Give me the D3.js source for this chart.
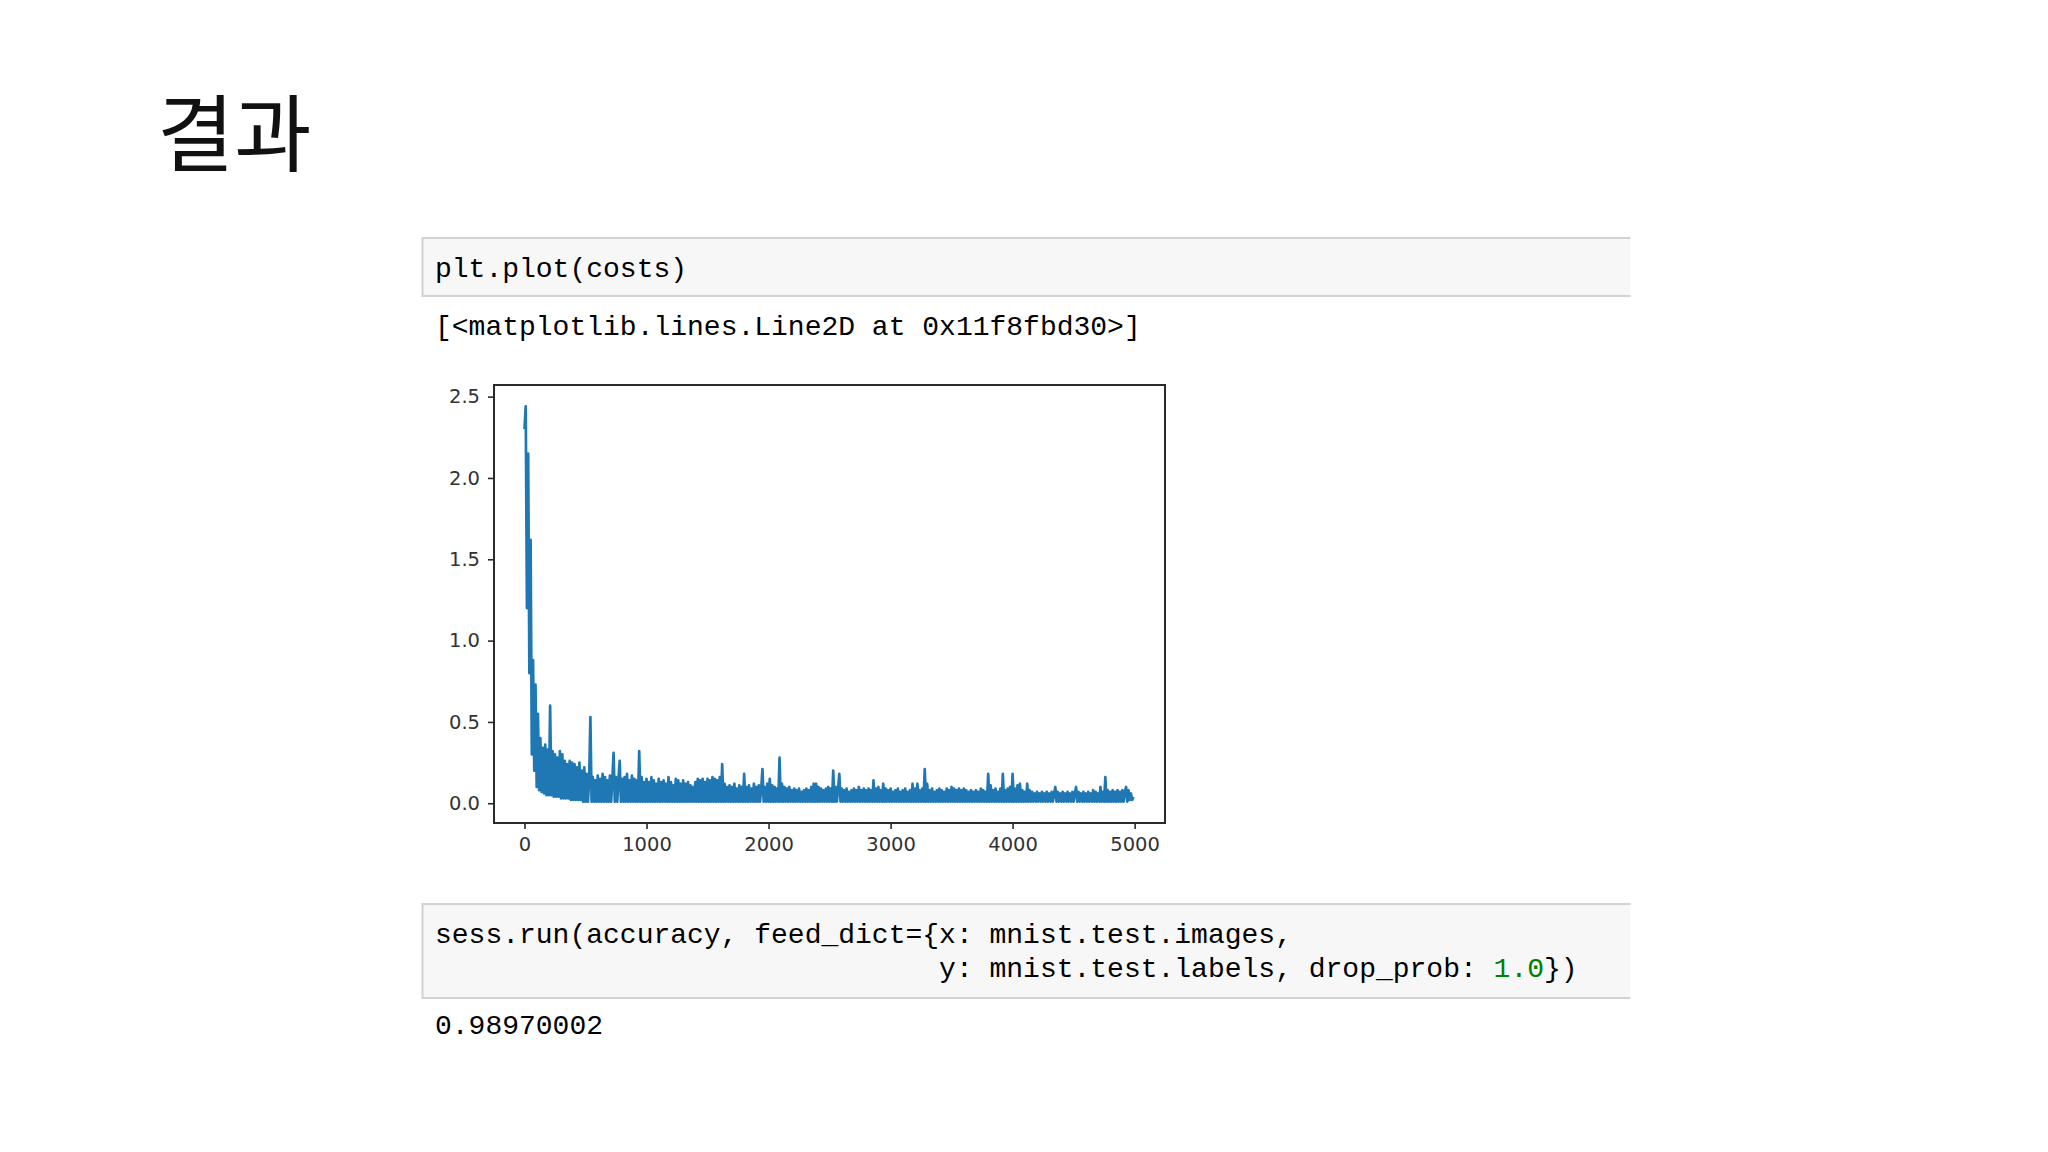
<!DOCTYPE html>
<html>
<head>
<meta charset="utf-8">
<script src="https://cdn.jsdelivr.net/npm/d3@7"></script>
<style>
  html, body { margin: 0; padding: 0; background: #ffffff; }
  svg { display: block; }
</style>
</head>
<body>
<svg id="chart" width="2048" height="1152"></svg>
<script>
// ---------------- data ----------------
const titleText = "결과";
const cell1Code = ["plt.plot(costs)"];
const cell1Output = "[<matplotlib.lines.Line2D at 0x11f8fbd30>]";
const cell2Code = [
  [{t: "sess.run(accuracy, feed_dict={x: mnist.test.images,"}],
  [{t: "                              y: mnist.test.labels, drop_prob: "}, {t: "1.0", num: true}, {t: "})"}]
];
const cell2Output = "0.98970002";

// costs, one value every 10 training steps
const sampleEvery = 10;
const costs = [
  2.30, 2.44, 1.20, 2.15, 0.80, 1.62, 0.30, 0.88, 0.20, 0.73,
  0.10, 0.55, 0.08, 0.40, 0.07, 0.34, 0.06, 0.36, 0.05, 0.33,
  0.05, 0.60, 0.05, 0.32, 0.04, 0.30, 0.04, 0.28, 0.04, 0.32,
  0.03, 0.30, 0.03, 0.26, 0.03, 0.24, 0.03, 0.26, 0.02, 0.25,
  0.02, 0.24, 0.02, 0.22, 0.02, 0.25, 0.02, 0.20, 0.01, 0.22,
  0.01, 0.18, 0.01, 0.15, 0.53, 0.01, 0.16, 0.01, 0.14, 0.01,
  0.17, 0.01, 0.15, 0.01, 0.18, 0.01, 0.16, 0.01, 0.14, 0.01,
  0.17, 0.01, 0.15, 0.31, 0.01, 0.16, 0.01, 0.15, 0.26, 0.01,
  0.15, 0.01, 0.16, 0.01, 0.18, 0.01, 0.14, 0.01, 0.17, 0.01,
  0.15, 0.01, 0.14, 0.01, 0.32, 0.01, 0.16, 0.01, 0.13, 0.01,
  0.15, 0.01, 0.13, 0.01, 0.16, 0.01, 0.14, 0.01, 0.12, 0.01,
  0.15, 0.01, 0.13, 0.01, 0.14, 0.01, 0.12, 0.01, 0.16, 0.01,
  0.13, 0.01, 0.11, 0.01, 0.15, 0.01, 0.14, 0.01, 0.12, 0.01,
  0.14, 0.01, 0.12, 0.01, 0.13, 0.01, 0.11, 0.01, 0.10, 0.01,
  0.13, 0.01, 0.15, 0.01, 0.14, 0.01, 0.15, 0.01, 0.13, 0.01,
  0.15, 0.01, 0.14, 0.01, 0.16, 0.01, 0.15, 0.01, 0.14, 0.01,
  0.16, 0.01, 0.24, 0.01, 0.12, 0.01, 0.10, 0.01, 0.11, 0.01,
  0.10, 0.01, 0.12, 0.01, 0.09, 0.01, 0.11, 0.01, 0.10, 0.01,
  0.18, 0.01, 0.10, 0.01, 0.11, 0.01, 0.09, 0.01, 0.12, 0.01,
  0.10, 0.01, 0.11, 0.01, 0.09, 0.21, 0.01, 0.10, 0.01, 0.12,
  0.01, 0.15, 0.01, 0.11, 0.01, 0.10, 0.01, 0.09, 0.01, 0.28,
  0.01, 0.12, 0.01, 0.10, 0.01, 0.09, 0.01, 0.10, 0.01, 0.08,
  0.01, 0.09, 0.01, 0.08, 0.01, 0.09, 0.01, 0.07, 0.01, 0.08,
  0.01, 0.09, 0.01, 0.08, 0.01, 0.10, 0.01, 0.12, 0.01, 0.12,
  0.01, 0.10, 0.01, 0.09, 0.01, 0.08, 0.01, 0.09, 0.01, 0.10,
  0.01, 0.09, 0.01, 0.20, 0.01, 0.10, 0.01, 0.09, 0.18, 0.01,
  0.09, 0.01, 0.08, 0.01, 0.09, 0.01, 0.07, 0.01, 0.08, 0.01,
  0.09, 0.01, 0.08, 0.01, 0.10, 0.01, 0.08, 0.01, 0.09, 0.01,
  0.08, 0.01, 0.09, 0.01, 0.08, 0.01, 0.14, 0.01, 0.09, 0.01,
  0.10, 0.01, 0.08, 0.01, 0.12, 0.01, 0.09, 0.01, 0.08, 0.01,
  0.09, 0.01, 0.07, 0.01, 0.08, 0.01, 0.09, 0.01, 0.07, 0.01,
  0.08, 0.01, 0.09, 0.01, 0.07, 0.01, 0.08, 0.01, 0.12, 0.01,
  0.09, 0.01, 0.12, 0.01, 0.08, 0.01, 0.09, 0.01, 0.21, 0.01,
  0.12, 0.01, 0.08, 0.01, 0.09, 0.01, 0.07, 0.01, 0.08, 0.01,
  0.09, 0.01, 0.08, 0.01, 0.07, 0.01, 0.09, 0.01, 0.08, 0.01,
  0.10, 0.01, 0.09, 0.01, 0.08, 0.01, 0.09, 0.01, 0.08, 0.01,
  0.09, 0.01, 0.08, 0.01, 0.07, 0.01, 0.08, 0.01, 0.07, 0.01,
  0.08, 0.01, 0.07, 0.01, 0.09, 0.01, 0.08, 0.01, 0.07, 0.01,
  0.18, 0.01, 0.11, 0.01, 0.08, 0.01, 0.09, 0.01, 0.07, 0.01,
  0.09, 0.01, 0.18, 0.01, 0.08, 0.01, 0.09, 0.01, 0.10, 0.01,
  0.18, 0.01, 0.09, 0.01, 0.11, 0.01, 0.12, 0.01, 0.08, 0.01,
  0.07, 0.01, 0.12, 0.01, 0.08, 0.01, 0.07, 0.01, 0.06, 0.01,
  0.07, 0.01, 0.06, 0.01, 0.07, 0.01, 0.06, 0.01, 0.07, 0.01,
  0.06, 0.01, 0.07, 0.01, 0.06, 0.10, 0.01, 0.07, 0.01, 0.06,
  0.01, 0.07, 0.01, 0.06, 0.01, 0.07, 0.01, 0.06, 0.01, 0.07,
  0.01, 0.06, 0.10, 0.01, 0.07, 0.01, 0.06, 0.01, 0.07, 0.01,
  0.06, 0.01, 0.07, 0.01, 0.06, 0.01, 0.08, 0.01, 0.07, 0.01,
  0.06, 0.01, 0.10, 0.01, 0.07, 0.01, 0.16, 0.01, 0.08, 0.01,
  0.07, 0.01, 0.08, 0.01, 0.07, 0.01, 0.08, 0.01, 0.07, 0.01,
  0.08, 0.01, 0.07, 0.10, 0.01, 0.08, 0.02, 0.06, 0.02, 0.04
];
const totalSteps = 5000;
const xTicks = [0, 1000, 2000, 3000, 4000, 5000];
const yTicks = [0.0, 0.5, 1.0, 1.5, 2.0, 2.5];

// ---------------- layout ----------------
const svg = d3.select("#chart");
svg.append("rect").attr("width", 2048).attr("height", 1152).attr("fill", "#ffffff");

const mono = "'Liberation Mono', 'DejaVu Sans Mono', monospace";
const codeSize = 28;

// title
svg.append("text")
  .attr("x", 157).attr("y", 165)
  .attr("font-family", "'Noto Sans CJK KR', sans-serif")
  .attr("font-size", 84)
  .attr("fill", "#111111")
  .text(titleText);

function codeCell(top, bottom) {
  const g = svg.append("g");
  g.append("rect").attr("x", 422).attr("y", top).attr("width", 1630 - 422).attr("height", bottom - top)
    .attr("fill", "#f7f7f7");
  g.append("path")
    .attr("d", `M1630.5,${top}H422.5V${bottom}H1630.5`)
    .attr("fill", "none").attr("stroke", "#d2d2d2").attr("stroke-width", 2);
  return g;
}

// cell 1
const c1 = codeCell(238, 296);
c1.append("text").attr("x", 435).attr("y", 277)
  .attr("font-family", mono).attr("font-size", codeSize).attr("fill", "#000")
  .text(cell1Code[0]);
svg.append("text").attr("x", 435).attr("y", 335)
  .attr("font-family", mono).attr("font-size", codeSize).attr("fill", "#000")
  .text(cell1Output);

// cell 2
const c2 = codeCell(904, 998);
cell2Code.forEach((line, i) => {
  const t = c2.append("text").attr("x", 435).attr("y", 943 + i * 34)
    .attr("font-family", mono).attr("font-size", codeSize).attr("fill", "#000")
    .style("white-space", "pre");
  line.forEach(seg => {
    t.append("tspan").attr("fill", seg.num ? "#008000" : "#000").text(seg.t);
  });
});
svg.append("text").attr("x", 435).attr("y", 1034)
  .attr("font-family", mono).attr("font-size", codeSize).attr("fill", "#000")
  .text(cell2Output);

// ---------------- plot ----------------
const plot = {left: 494, right: 1165, top: 385, bottom: 823};
const xMax = totalSteps - 1;
const yMin = d3.min(costs), yMax = d3.max(costs);
const x = d3.scaleLinear()
  .domain([-0.05 * xMax, xMax * 1.05])
  .range([plot.left, plot.right]);
const yPad = 0.05 * (yMax - yMin);
const y = d3.scaleLinear()
  .domain([yMin - yPad - 0.01, yMax + yPad + 0.01])
  .range([plot.bottom, plot.top]);

const pg = svg.append("g");
pg.append("defs").append("clipPath").attr("id", "clip")
  .append("rect").attr("x", plot.left).attr("y", plot.top)
  .attr("width", plot.right - plot.left).attr("height", plot.bottom - plot.top);

const line = d3.line()
  .x((d, i) => x(i * sampleEvery))
  .y(d => y(d));
pg.append("path")
  .datum(costs)
  .attr("clip-path", "url(#clip)")
  .attr("d", line)
  .attr("fill", "none")
  .attr("stroke", "#1f77b4")
  .attr("stroke-width", 2.7)
  .attr("stroke-linejoin", "round");

// frame
pg.append("rect")
  .attr("x", plot.left).attr("y", plot.top)
  .attr("width", plot.right - plot.left).attr("height", plot.bottom - plot.top)
  .attr("fill", "none").attr("stroke", "#2a2a2a").attr("stroke-width", 2);

const tickFont = "'DejaVu Sans', sans-serif";
const xAxis = pg.append("g").attr("transform", `translate(0,${plot.bottom})`)
  .call(d3.axisBottom(x).tickValues(xTicks).tickFormat(d3.format("d")).tickSize(6).tickPadding(8));
const yAxis = pg.append("g").attr("transform", `translate(${plot.left},0)`)
  .call(d3.axisLeft(y).tickValues(yTicks).tickFormat(d3.format(".1f")).tickSize(6).tickPadding(8));
[xAxis, yAxis].forEach(a => {
  a.select(".domain").remove();
  a.selectAll(".tick line").attr("stroke", "#2a2a2a").attr("stroke-width", 1.6);
  a.selectAll(".tick text").attr("font-family", tickFont).attr("font-size", 19.5).attr("fill", "#333333");
});
</script>
</body>
</html>
